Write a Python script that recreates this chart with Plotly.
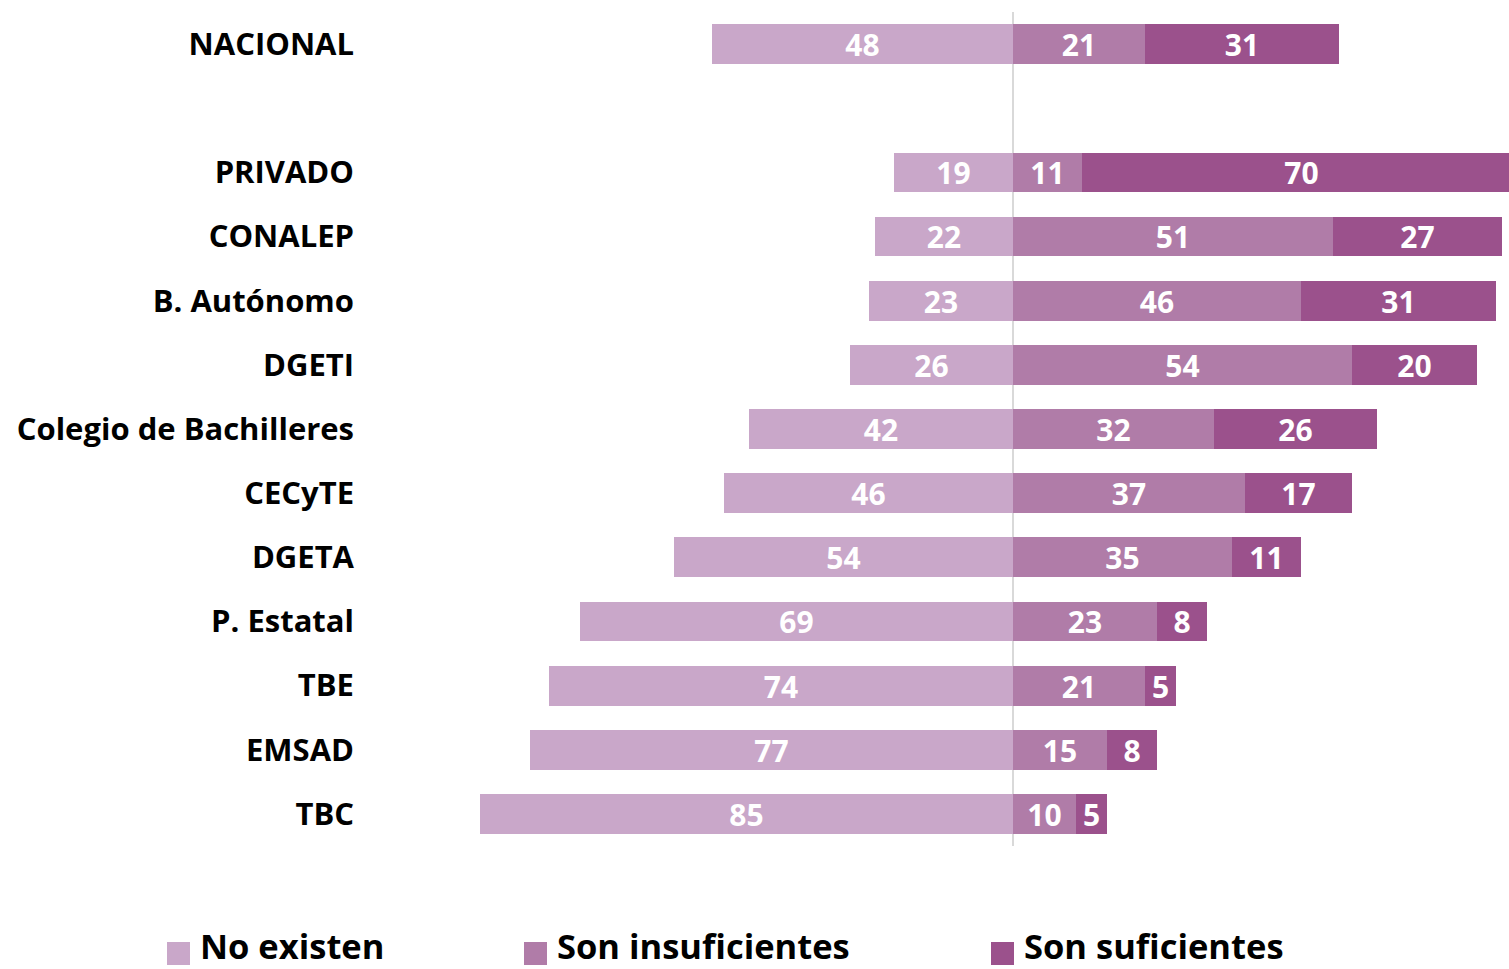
import plotly.graph_objects as go

categories = ["NACIONAL", "PRIVADO", "CONALEP", "B. Autónomo", "DGETI",
              "Colegio de Bachilleres", "CECyTE", "DGETA", "P. Estatal",
              "TBE", "EMSAD", "TBC"]
positions = [0, 2, 3, 4, 5, 6, 7, 8, 9, 10, 11, 12]
no_existen = [48, 19, 22, 23, 26, 42, 46, 54, 69, 74, 77, 85]
insuficientes = [21, 11, 51, 46, 54, 32, 37, 35, 23, 21, 15, 10]
suficientes = [31, 70, 27, 31, 20, 26, 17, 11, 8, 5, 8, 5]
series_names = ["No existen", "Son insuficientes", "Son suficientes"]
colors = ["#C9A7C9", "#B07CA8", "#9B518C"]

FONT = "Open Sans"
W, H = 1509, 969
L, T = 365, 12
PLOT_BOTTOM = 846
B = H - PLOT_BOTTOM
R = 0
PW, PH = W - L - R, H - T - B

fig = go.Figure()
label_font = dict(family=FONT, size=30, color="white", weight="bold")
for vals, col, name, sign in [(no_existen, colors[0], series_names[0], -1),
                              (insuficientes, colors[1], series_names[1], 1),
                              (suficientes, colors[2], series_names[2], 1)]:
    fig.add_trace(go.Bar(
        y=positions, x=[sign * v for v in vals], orientation="h",
        marker=dict(color=col, line=dict(width=0)), width=0.62,
        text=[str(v) for v in vals], textposition="inside", textangle=0,
        insidetextanchor="middle", textfont=label_font, constraintext="none",
        name=name, showlegend=False, hoverinfo="skip"))

def px_x(p):
    return (p - L) / PW

def px_y(p):
    return (PLOT_BOTTOM - p) / PH

# legend (custom, drawn in paper coordinates; args are page pixels)
legend_x = [167, 524, 991]
shapes = []
annotations = []
for name, col, lx in zip(series_names, colors, legend_x):
    shapes.append(dict(type="rect", xref="paper", yref="paper",
                       x0=px_x(lx), x1=px_x(lx + 23), y0=px_y(965), y1=px_y(942),
                       fillcolor=col, line=dict(width=0)))
    annotations.append(dict(xref="paper", yref="paper", x=px_x(lx + 31), y=px_y(946),
                            text=name, showarrow=False, xanchor="left", yanchor="middle",
                            font=dict(family=FONT, size=34.5, color="black", weight="bold")))

fig.update_layout(
    width=W, height=H,
    margin=dict(l=L, r=R, t=T, b=B),
    barmode="relative", bargap=0,
    plot_bgcolor="white", paper_bgcolor="white",
    xaxis=dict(range=[-103.3, 79.1], showticklabels=False, showgrid=False,
               zeroline=True, zerolinecolor="#D9D9D9", zerolinewidth=2,
               fixedrange=True),
    yaxis=dict(range=[12.5, -0.5], tickvals=positions, ticktext=categories,
               showgrid=False, zeroline=False, ticks="", ticklabelstandoff=10,
               tickfont=dict(family=FONT, size=31, color="black", weight="bold"),
               fixedrange=True),
    shapes=shapes, annotations=annotations,
    uniformtext=dict(mode="show", minsize=30),
    hovermode=False,
)
fig.write_html(
    "out.html",
    config={"displayModeBar": False},
    post_script="document.body.style.margin='0';document.body.style.overflow='hidden';",
)
